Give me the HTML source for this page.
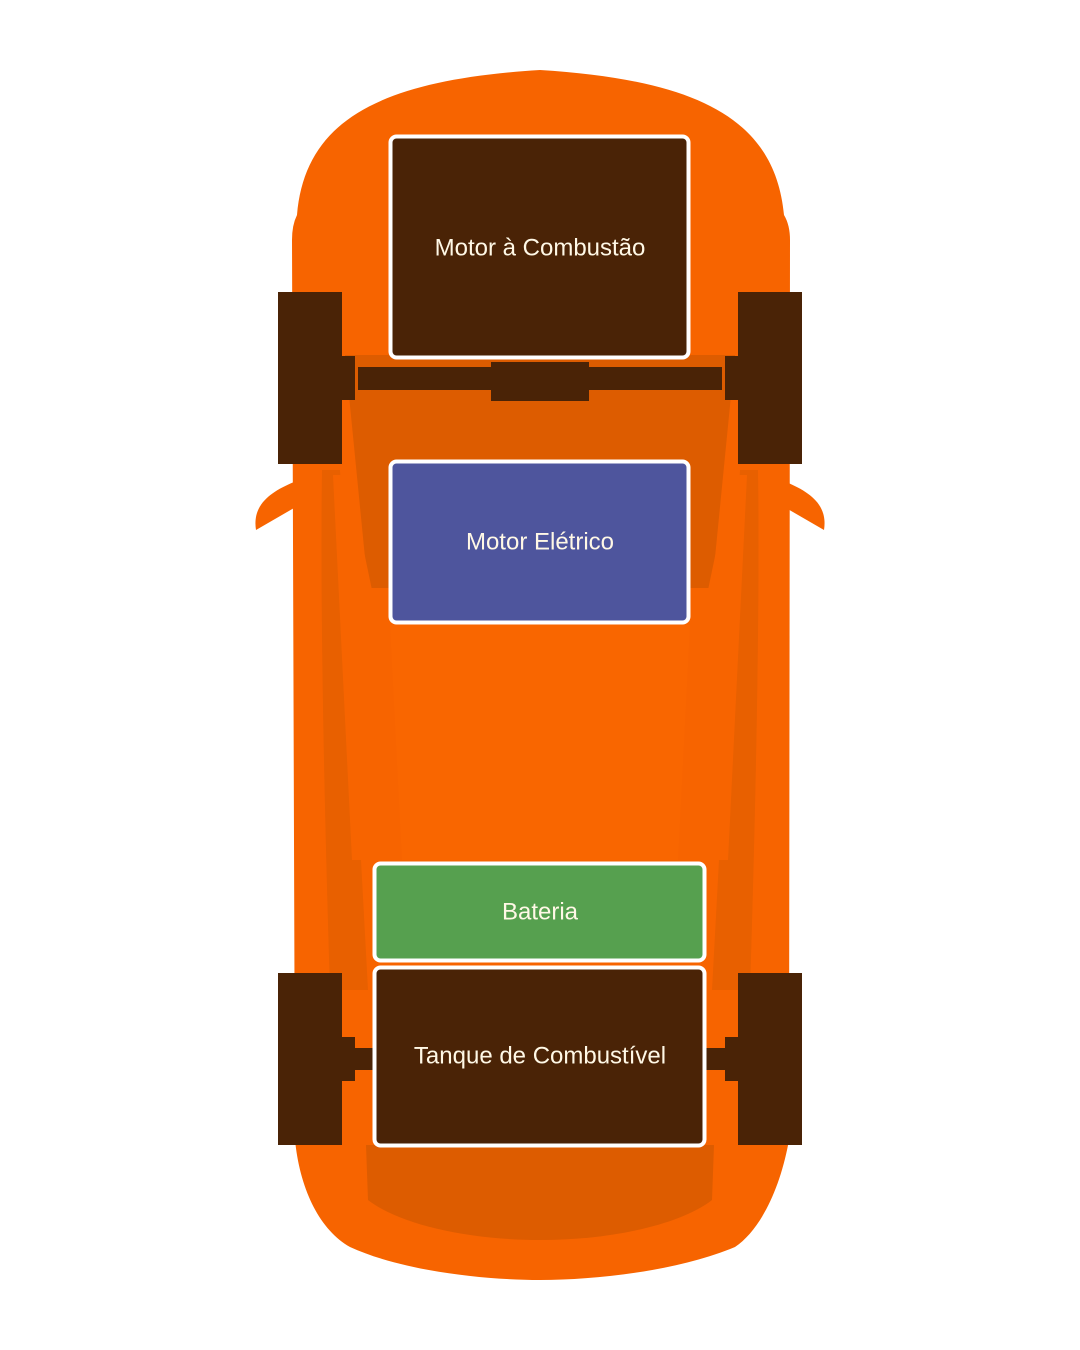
<!DOCTYPE html>
<html><head><meta charset="utf-8"><style>
html,body{margin:0;padding:0;background:#fff;width:1080px;height:1350px;overflow:hidden}
svg{display:block}
text{font-family:"Liberation Sans",sans-serif;font-size:24px;fill:#fff8e6;text-anchor:middle;dominant-baseline:central}
</style></head><body>
<svg width="1080" height="1350" viewBox="0 0 1080 1350">
<path d="M294,482 C270,492 252,505 256,530 L294,508 Z" fill="#f76400"/>
<path d="M786,482 C810,492 828,505 824,530 L786,508 Z" fill="#f76400"/>
<path d="M292,240 Q292,225 297,215 C305,120 380,80 540,70 C700,80 775,120 784,215 Q790,225 790,240 L789,1140 C780,1190 760,1230 735,1247 C680,1270 600,1280 540,1280 C480,1280 400,1270 350,1247 C320,1230 300,1190 295,1140 Z" fill="#f76400"/>
<path d="M345,355 L735,355 L712,588 L368,588 Z" fill="#dd5c00"/>
<path d="M322,470 L340,470 L368,990 L330,990 C324,800 320,600 322,470 Z" fill="#e86000"/>
<path d="M758,470 L740,470 L712,990 L750,990 C756,800 760,600 758,470 Z" fill="#e86000"/>
<path d="M333,475 L348,475 L372,590 L362,860 L352,860 Z" fill="#f76400"/>
<path d="M747,475 L732,475 L708,590 L718,860 L728,860 Z" fill="#f76400"/>
<path d="M390,625 L690,625 L678,860 L402,860 Z" fill="#f96600"/>
<path d="M366,1145 L714,1145 L712,1200 C680,1225 610,1240 540,1240 C470,1240 400,1225 368,1200 Z" fill="#dd5c00"/>
<rect x="358" y="367" width="364" height="23" fill="#4a2306"/>
<rect x="491" y="362" width="98" height="39" fill="#4a2306"/>
<rect x="278" y="292" width="64" height="172" fill="#4a2306"/>
<rect x="340" y="356" width="15" height="44" fill="#4a2306"/>
<rect x="738" y="292" width="64" height="172" fill="#4a2306"/>
<rect x="725" y="356" width="15" height="44" fill="#4a2306"/>
<rect x="278" y="973" width="64" height="172" fill="#4a2306"/>
<rect x="340" y="1037" width="15" height="44" fill="#4a2306"/>
<rect x="355" y="1048" width="20" height="22" fill="#4a2306"/>
<rect x="738" y="973" width="64" height="172" fill="#4a2306"/>
<rect x="725" y="1037" width="15" height="44" fill="#4a2306"/>
<rect x="705" y="1048" width="20" height="22" fill="#4a2306"/>
<rect x="390.5" y="136.5" width="298" height="221" rx="6" fill="#4a2306" stroke="#fff" stroke-width="4"/>
<text x="540" y="248">Motor à Combustão</text>
<rect x="390.5" y="461.5" width="298" height="161" rx="6" fill="#4e559d" stroke="#fff" stroke-width="4"/>
<text x="540" y="542">Motor Elétrico</text>
<rect x="374.5" y="863.5" width="330" height="97" rx="6" fill="#56a04f" stroke="#fff" stroke-width="4"/>
<text x="540" y="912">Bateria</text>
<rect x="374.5" y="967.5" width="330" height="178" rx="6" fill="#4a2306" stroke="#fff" stroke-width="4"/>
<text x="540" y="1056">Tanque de Combustível</text>
</svg>
</body></html>
